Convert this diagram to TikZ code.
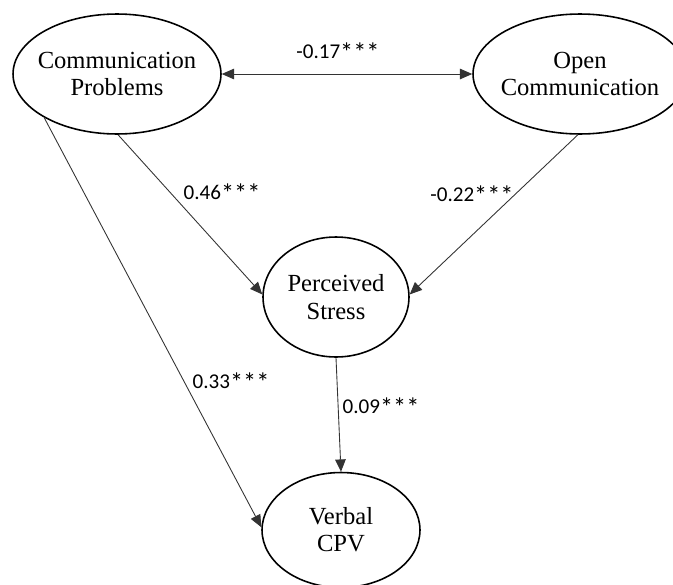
\documentclass[tikz,border=0pt]{standalone}
\usepackage{fontspec}
\setmainfont{Liberation Serif}
\newfontfamily\coeffont{Carlito}
\usetikzlibrary{shapes.geometric,arrows.meta}
\def\oneline#1{\makebox[0pt]{#1}}
\def\sig{\raisebox{-0.25ex}{\fontsize{15}{15}\selectfont***}}

\begin{document}
\begin{tikzpicture}[x=0.02cm, y=-0.02cm, >={Triangle[length=7pt,width=6pt]},
	latent/.style={draw, ellipse, line width=0.9pt, inner sep=0pt, align=center, font=\fontsize{14}{15.5}\selectfont},
	conn/.style={->, line width=0.5pt, draw=black!80},
	coef/.style={font=\coeffont\fontsize{12}{14}\selectfont, inner sep=0pt}]
			%%%%% START %%%%%
			
			\useasboundingbox (0, 0) rectangle (673, 585);
			
			\node[latent, minimum width=4.16cm, minimum height=2.4cm] (cp) at (117, 74) {\oneline{Communication}\\\oneline{Problems}};
			\node[latent, minimum width=4.28cm, minimum height=2.4cm] (oc) at (580, 74) {\oneline{Open}\\\oneline{Communication}};
			\node[latent, minimum width=2.92cm, minimum height=2.4cm] (ps) at (336, 297) {\oneline{Perceived}\\\oneline{Stress}};
			\node[latent, minimum width=3.16cm, minimum height=2.3cm] (vb) at (341, 530) {\oneline{Verbal}\\\oneline{CPV}};
			
			\draw[conn, <->] (cp.east) -- (oc.west);
			\draw[conn] (cp.271) -- (ps.178);
			\draw[conn] (oc.268) -- (ps.2);
			\draw[conn] (cp.211) -- (vb.178);
			\draw[conn] (ps.south) -- (vb.north);
			
			\node[coef] (r1) at (338, 52) {-0.17\sig};
			\node[coef] (b1) at (222, 193) {0.46\sig};
			\node[coef] (b2) at (472, 195) {-0.22\sig};
			\node[coef] (b3) at (231, 382) {0.33\sig};
			\node[coef] (b4) at (381, 407) {0.09\sig};
			
			%%%%% END %%%%%
\end{tikzpicture}
\end{document}
